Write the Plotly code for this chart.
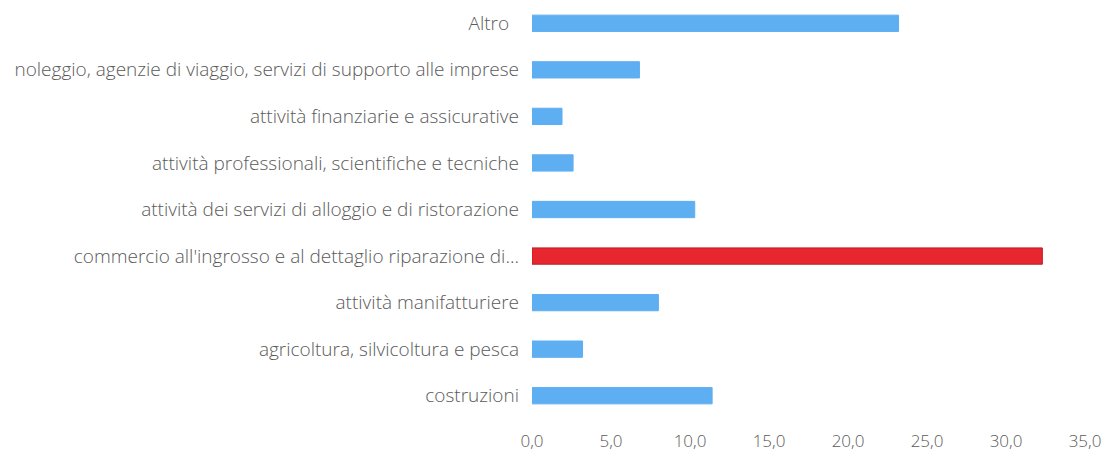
import plotly.graph_objects as go

categories = [
    "costruzioni",
    "agricoltura, silvicoltura e pesca",
    "attività manifatturiere",
    "commercio all'ingrosso e al dettaglio riparazione di...",
    "attività dei servizi di alloggio e di ristorazione",
    "attività professionali, scientifiche e tecniche",
    "attività finanziarie e assicurative",
    "noleggio, agenzie di viaggio, servizi di supporto alle imprese",
    "Altro\u00a0\u00a0",
]
values = [11.4, 3.2, 8.0, 32.3, 10.3, 2.6, 1.9, 6.8, 23.2]
highlight = "commercio all'ingrosso e al dettaglio riparazione di..."

tick_vals = [0, 5, 10, 15, 20, 25, 30, 35]
tick_text = ["0,0", "5,0", "10,0", "15,0", "20,0", "25,0", "30,0", "35,0"]

bar_colors = ["#e8262f" if c == highlight else "#5eaef2" for c in categories]
line_colors = ["#b81d25" if c == highlight else "#5eaef2" for c in categories]

fig = go.Figure(
    go.Bar(
        x=values,
        y=categories,
        orientation="h",
        width=0.35,
        marker=dict(color=bar_colors, line=dict(color=line_colors, width=1)),
    )
)

fig.update_layout(
    width=1111,
    height=454,
    margin=dict(l=532, r=26, t=0, b=35),
    plot_bgcolor="white",
    paper_bgcolor="white",
    showlegend=False,
    font=dict(family="Open Sans", size=19, color="#5a5a5a", weight=300),
)
fig.update_xaxes(
    range=[0, 35],
    tickvals=tick_vals,
    ticktext=tick_text,
    showgrid=False,
    zeroline=False,
    showline=False,
    ticks="",
    ticklabelstandoff=10,
    tickfont=dict(size=17, color="#5a5a5a", weight=300),
)
fig.update_yaxes(
    showgrid=False,
    zeroline=False,
    showline=False,
    ticks="",
    ticklabelstandoff=12,
    tickfont=dict(size=19, color="#5a5a5a", weight=300),
)

# the page body has a default 8px margin; drop it so the chart sits at 0,0
fig.write_html(
    "out.html",
    config={"displayModeBar": False},
    post_script="document.body.style.margin='0';",
)
